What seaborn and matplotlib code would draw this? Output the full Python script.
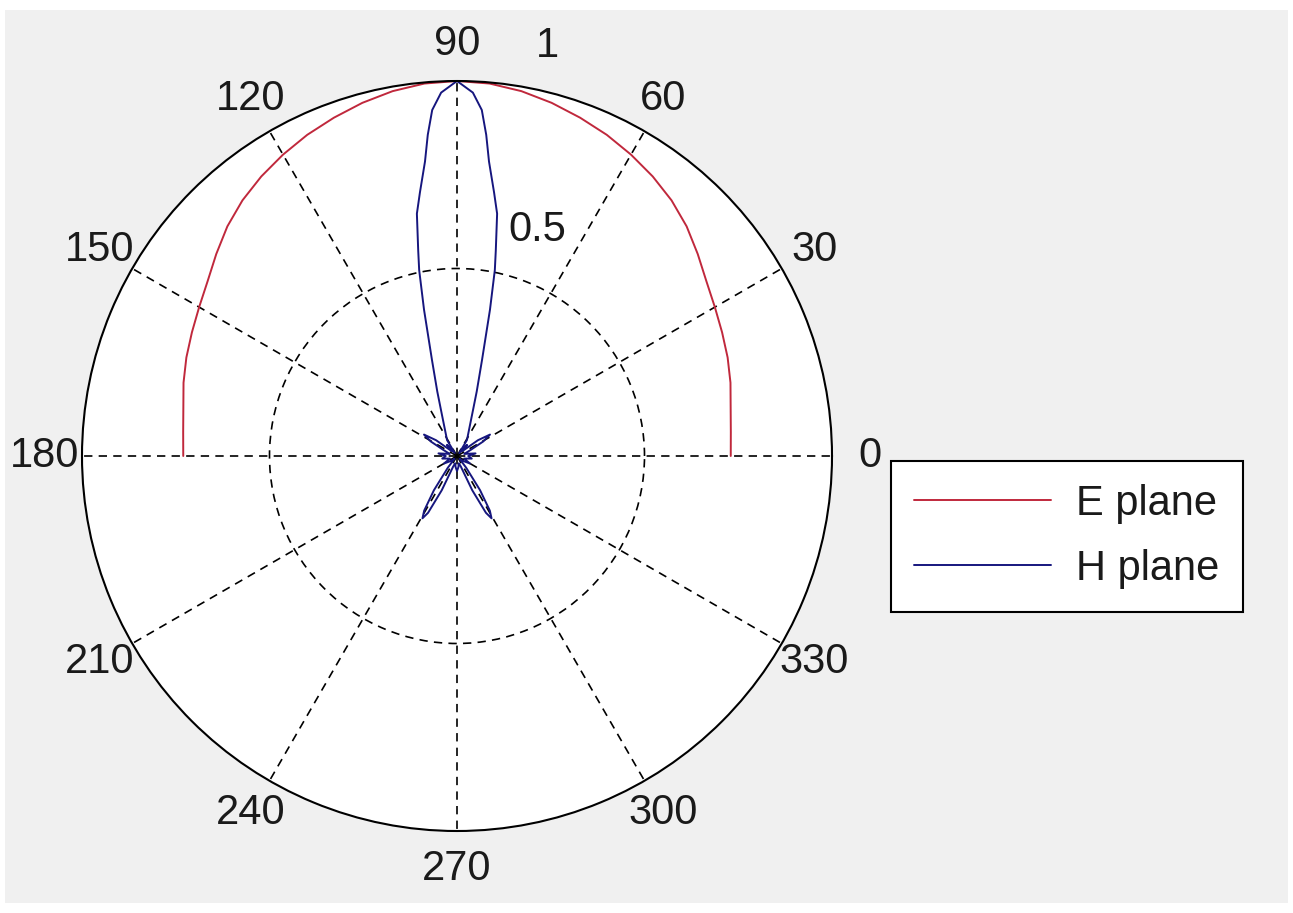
import numpy as np
import pandas as pd
import matplotlib
matplotlib.use("Agg")
import matplotlib.pyplot as plt
from matplotlib.patches import Rectangle
from matplotlib.lines import Line2D
import seaborn as sns

# ---------------- data ----------------
# E plane (upper half only), angle in degrees, normalized magnitude
e_deg = [0, 5, 10, 15, 20, 25, 30, 35, 40, 45, 50, 55, 60, 65, 70, 75, 80, 85, 90,
         95, 100, 105, 110, 115, 120, 125, 130, 135, 140, 145, 150, 155, 160, 165, 170, 175, 180]
e_r = [0.730, 0.733, 0.741, 0.755, 0.768, 0.780, 0.794, 0.812, 0.838, 0.866, 0.890, 0.910,
       0.928, 0.945, 0.960, 0.975, 0.988, 0.997, 1.000,
       0.997, 0.988, 0.975, 0.960, 0.945, 0.928, 0.910, 0.890, 0.866, 0.838, 0.812,
       0.794, 0.780, 0.768, 0.755, 0.741, 0.733, 0.730]

# H plane, left half (90 -> 270 deg); the right half is its mirror about the 90-270 axis
h_deg = [90, 92.5, 94.1, 95.2, 96.2, 98.0, 99.4, 100.7, 101.5, 102.7, 104.6, 107.0, 109.2,
         115.0, 122.0, 127.0, 132.0, 138.0, 143.0, 147.0, 151.0, 156.0, 164.0, 172.0, 180.0,
         190.0, 200.0, 210.0, 220.0, 228.0, 232.0, 236.0, 239.0, 241.0, 243.0, 246.0, 250.0,
         256.0, 263.0, 270.0]
h_r = [1.000, 0.970, 0.925, 0.860, 0.790, 0.710, 0.655, 0.557, 0.506, 0.400, 0.265, 0.180, 0.130,
       0.075, 0.050, 0.010, 0.040, 0.020, 0.070, 0.105, 0.080, 0.040, 0.020, 0.050, 0.030,
       0.040, 0.020, 0.040, 0.020, 0.010, 0.040, 0.110, 0.170, 0.190, 0.170, 0.100, 0.030,
       0.020, 0.030, 0.040]

series_names = ["E plane", "H plane"]
series_colors = ["#c0283c", "#16167e"]
angle_ticks = [0, 30, 60, 90, 120, 150, 180, 210, 240, 270, 300, 330]
r_ticks = [0.5, 1.0]
r_tick_labels = ["0.5", "1"]

# ---------------- build table ----------------
h_full_deg = list(h_deg) + [(180 - d) % 360 for d in reversed(h_deg)]
h_full_r = list(h_r) + list(reversed(h_r))
h_full_deg[-1] = 450  # close loop at 90 deg

df = pd.concat([
    pd.DataFrame({"theta": np.deg2rad(e_deg), "r": e_r, "plane": series_names[0]}),
    pd.DataFrame({"theta": np.deg2rad(h_full_deg), "r": h_full_r, "plane": series_names[1]}),
], ignore_index=True)

# ---------------- style ----------------
sns.set_style("white")
plt.rcParams["font.family"] = ["Liberation Sans Narrow", "Liberation Sans", "DejaVu Sans"]
plt.rcParams["lines.scale_dashes"] = False

W, H = 1293, 913
fig = plt.figure(figsize=(W / 100, H / 100), dpi=100, facecolor="white")
fig.patches.append(Rectangle((5 / W, 10 / H), (1288 - 5) / W, (903 - 10) / H,
                             transform=fig.transFigure, facecolor="#f0f0f0",
                             edgecolor="none", zorder=-10))

cx, cy, R = 457, 456, 375
ax = fig.add_axes([(cx - R) / W, (H - cy - R) / H, 2 * R / W, 2 * R / H], projection="polar")
ax.set_facecolor("white")

palette = dict(zip(series_names, series_colors))
sns.lineplot(data=df, x="theta", y="r", hue="plane", units="plane", estimator=None,
             sort=False, palette=palette, linewidth=1.4, ax=ax, legend=False)

ax.set_ylim(0, 1)
ax.set_thetagrids(angle_ticks, labels=[""] * len(angle_ticks))
ax.set_rgrids([0.5], labels=[""])
ax.grid(True, color="black", linestyle=(0, (6.0, 4.5)), linewidth=1.2)
ax.spines["polar"].set_color("black")
ax.spines["polar"].set_linewidth(1.5)
ax.set_xlabel("")
ax.set_ylabel("")

fs = 30
for a in angle_ticks:
    ax.text(np.deg2rad(a), 1.10, str(a), ha="center", va="center", fontsize=fs,
            color="#1a1a1a", clip_on=False)
ax.text(np.deg2rad(77.5), 1.12, r_tick_labels[1], ha="center", va="center", fontsize=fs,
        color="#1a1a1a", clip_on=False)
ax.text(np.deg2rad(70.5), 0.64, r_tick_labels[0], ha="center", va="center", fontsize=fs,
        color="#1a1a1a", clip_on=False)

handles = [Line2D([], [], color=c, linewidth=1.4) for c in series_colors]
leg = fig.legend(handles, series_names, loc="lower left",
                 bbox_to_anchor=(891 / W, (H - 612) / H), bbox_transform=fig.transFigure,
                 fontsize=fs, frameon=True, fancybox=False, shadow=False,
                 handlelength=3.3, handletextpad=0.6, borderpad=0.55, labelspacing=0.6,
                 borderaxespad=0)
leg.get_frame().set_edgecolor("black")
leg.get_frame().set_linewidth(1.5)
leg.get_frame().set_facecolor("white")
leg.get_frame().set_alpha(1)
for t in leg.get_texts():
    t.set_color("#1a1a1a")

fig.savefig("out.png", dpi=100, facecolor=fig.get_facecolor())
